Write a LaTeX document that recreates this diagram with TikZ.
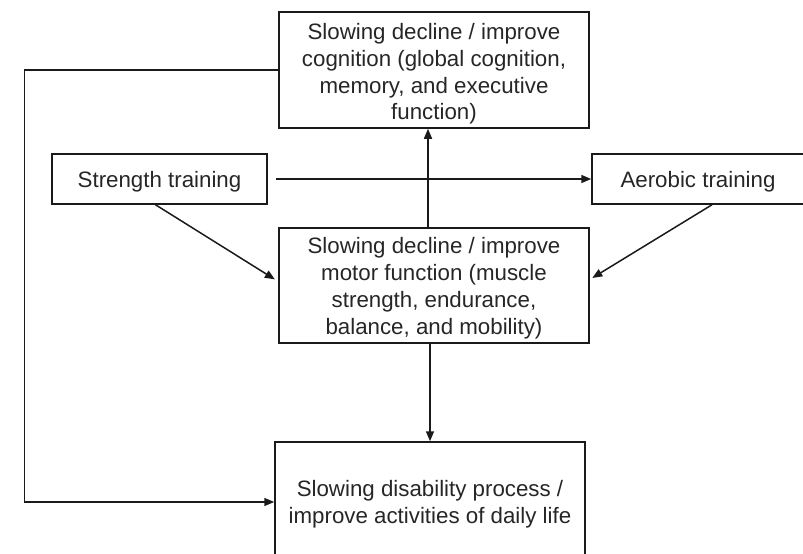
\documentclass[tikz,border=0pt]{standalone}
\usepackage{fontspec}
\setmainfont{Liberation Sans}
\usetikzlibrary{arrows.meta}
\definecolor{ink}{HTML}{1A1A1A}
\definecolor{txt}{HTML}{262626}
\newcommand{\firstlift}[1]{\rule{0pt}{#1}}
\begin{document}
\begin{tikzpicture}[x=1pt,y=-1pt,
  box/.style={draw=ink,line width=1.5pt,rectangle,inner sep=0pt,align=center,
    text=txt,font=\fontsize{22.3}{26.8}\selectfont},
  arr/.style={draw=ink,line width=1.5pt,-{Triangle[length=10pt,width=8pt]}}]
\useasboundingbox (0,0) rectangle (803,554);
\clip (0,0) rectangle (803,554);
\node[box,minimum width=310pt,minimum height=116pt] (top) at (434,70)
  {\firstlift{24pt}Slowing decline / improve\\cognition (global cognition,\\memory, and executive\\function)};
\node[box,minimum width=215pt,minimum height=50pt] (str) at (159.5,179) {\firstlift{22pt}Strength training};
\node[box,minimum width=212pt,minimum height=50pt] (aer) at (698,179) {\firstlift{22pt}Aerobic training};
\node[box,minimum width=310pt,minimum height=115pt] (mid) at (434,285.5)
  {\firstlift{22pt}Slowing decline / improve\\motor function (muscle\\strength, endurance,\\balance, and mobility)};
\node[box,minimum width=310pt,minimum height=120pt] (bot) at (430,502)
  {\firstlift{21pt}Slowing disability process /\\improve activities of daily life};
\draw[arr,shorten <=8pt] (str.east) -- (aer.west);
\draw[arr] ([xshift=-6pt]mid.north) -- ([xshift=-6pt]top.south);
\draw[arr] ([xshift=-4pt]mid.south) -- ([xshift=0pt]bot.north);
\draw[arr,shorten >=4pt] ([xshift=-4pt]str.south) -- ([yshift=4pt]mid.west);
\draw[arr,shorten >=3pt] ([xshift=14pt]aer.south) -- ([yshift=6pt]mid.east);
\draw[arr] (top.west) -- ++(-254,0) |- (bot.west);
\end{tikzpicture}
\end{document}
